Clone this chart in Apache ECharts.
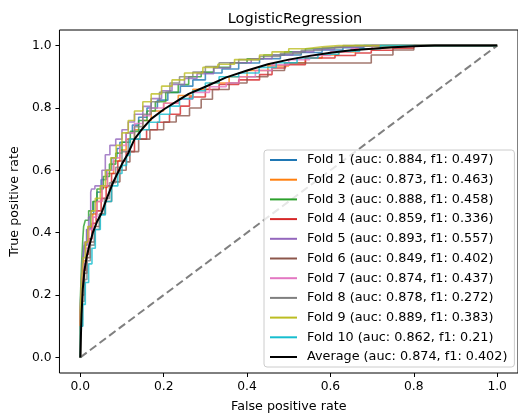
<!DOCTYPE html>
<html>
<head>
<meta charset="utf-8">
<script src="https://cdn.jsdelivr.net/npm/echarts@6/dist/echarts.min.js"></script>
<style>html,body{margin:0;padding:0;background:#fff;}#c{width:518px;height:418px;}</style>
</head>
<body>
<div id="c"></div>
<script>
// ---- data ----
var chartTitle = 'LogisticRegression';
var xName = 'False positive rate';
var yName = 'True positive rate';
var tickValues = [0, 0.2, 0.4, 0.6, 0.8, 1.0];

var foldNames = ['Fold 1','Fold 2','Fold 3','Fold 4','Fold 5','Fold 6','Fold 7','Fold 8','Fold 9','Fold 10'];
var foldAuc = ['0.884','0.873','0.888','0.859','0.893','0.849','0.874','0.878','0.889','0.862'];
var foldF1 = ['0.497','0.463','0.458','0.336','0.557','0.402','0.437','0.272','0.383','0.21'];
var avgAuc = '0.874', avgF1 = '0.402';

var fold1 = [[0,0],[0,0.03],[0.003,0.12],[0.006,0.22],[0.01,0.3],[0.016,0.36],[0.024,0.41],[0.032,0.46],[0.04,0.5],[0.05,0.53],[0.062,0.57],[0.075,0.6],[0.088,0.64],[0.095,0.67],[0.11,0.69],[0.125,0.72],[0.14,0.745],[0.16,0.77],[0.185,0.8],[0.21,0.825],[0.24,0.85],[0.27,0.87],[0.3,0.89],[0.34,0.912],[0.38,0.925],[0.43,0.944],[0.48,0.958],[0.53,0.97],[0.58,0.978],[0.63,0.986],[0.68,0.993],[0.72,1.0],[1,1]];
var fold2 = [[0,0],[0,0.05],[0.004,0.15],[0.008,0.25],[0.013,0.31],[0.02,0.37],[0.03,0.42],[0.04,0.46],[0.052,0.5],[0.065,0.545],[0.08,0.59],[0.095,0.63],[0.11,0.665],[0.13,0.7],[0.15,0.73],[0.17,0.76],[0.2,0.79],[0.235,0.815],[0.27,0.84],[0.31,0.86],[0.357,0.88],[0.4,0.9],[0.45,0.92],[0.5,0.935],[0.54,0.945],[0.58,0.96],[0.62,0.97],[0.66,0.98],[0.7,0.99],[0.76,0.995],[0.8,1.0],[1,1]];
var fold3 = [[0,0],[0,0.06],[0.003,0.18],[0.006,0.3],[0.008,0.38],[0.012,0.42],[0.02,0.44],[0.03,0.47],[0.04,0.5],[0.055,0.54],[0.07,0.58],[0.085,0.62],[0.1,0.655],[0.12,0.69],[0.14,0.725],[0.16,0.76],[0.18,0.79],[0.205,0.82],[0.235,0.85],[0.26,0.875],[0.29,0.9],[0.32,0.915],[0.36,0.93],[0.4,0.945],[0.44,0.958],[0.49,0.97],[0.54,0.98],[0.58,0.99],[0.63,0.996],[0.66,1.0],[1,1]];
var fold4 = [[0,0],[0,0.04],[0.004,0.13],[0.008,0.22],[0.013,0.28],[0.02,0.33],[0.028,0.38],[0.038,0.43],[0.05,0.47],[0.062,0.51],[0.075,0.55],[0.09,0.59],[0.11,0.63],[0.13,0.66],[0.159,0.7],[0.185,0.73],[0.214,0.754],[0.24,0.78],[0.262,0.806],[0.3,0.835],[0.333,0.859],[0.38,0.875],[0.43,0.89],[0.46,0.907],[0.492,0.928],[0.54,0.939],[0.611,0.96],[0.66,0.968],[0.698,0.976],[0.75,0.985],[0.8,0.992],[0.861,1.0],[1,1]];
var fold5 = [[0,0],[0,0.05],[0.003,0.16],[0.006,0.26],[0.01,0.32],[0.015,0.37],[0.02,0.41],[0.025,0.45],[0.027,0.53],[0.035,0.54],[0.052,0.55],[0.06,0.6],[0.071,0.65],[0.085,0.68],[0.1,0.7],[0.115,0.73],[0.13,0.755],[0.15,0.78],[0.17,0.805],[0.195,0.83],[0.22,0.855],[0.25,0.875],[0.28,0.895],[0.32,0.91],[0.36,0.928],[0.41,0.945],[0.46,0.958],[0.51,0.97],[0.56,0.98],[0.61,0.988],[0.66,0.995],[0.7,1.0],[1,1]];
var fold6 = [[0,0],[0,0.03],[0.005,0.12],[0.01,0.2],[0.016,0.27],[0.024,0.32],[0.034,0.37],[0.046,0.42],[0.06,0.46],[0.075,0.5],[0.095,0.563],[0.11,0.6],[0.119,0.627],[0.14,0.66],[0.167,0.7],[0.2,0.73],[0.23,0.755],[0.262,0.775],[0.29,0.8],[0.317,0.828],[0.357,0.859],[0.4,0.88],[0.45,0.9],[0.49,0.92],[0.52,0.944],[0.6,0.944],[0.698,0.944],[0.698,0.97],[0.75,0.97],[0.78,0.986],[0.8,0.986],[0.81,1.0],[1,1]];
var fold7 = [[0,0],[0,0.04],[0.004,0.14],[0.008,0.24],[0.013,0.3],[0.02,0.35],[0.03,0.41],[0.04,0.45],[0.052,0.5],[0.065,0.55],[0.08,0.6],[0.095,0.64],[0.11,0.68],[0.13,0.72],[0.15,0.75],[0.167,0.775],[0.2,0.8],[0.235,0.815],[0.27,0.828],[0.31,0.85],[0.35,0.868],[0.381,0.88],[0.42,0.9],[0.46,0.92],[0.5,0.938],[0.55,0.955],[0.6,0.968],[0.65,0.98],[0.7,0.99],[0.75,1.0],[1,1]];
var fold8 = [[0,0],[0,0.02],[0.005,0.1],[0.01,0.18],[0.016,0.25],[0.024,0.31],[0.034,0.36],[0.046,0.41],[0.058,0.46],[0.07,0.51],[0.085,0.56],[0.1,0.61],[0.115,0.66],[0.13,0.7],[0.15,0.74],[0.17,0.78],[0.19,0.82],[0.215,0.85],[0.238,0.88],[0.27,0.9],[0.3,0.915],[0.333,0.933],[0.38,0.945],[0.43,0.955],[0.48,0.965],[0.53,0.975],[0.58,0.985],[0.63,0.993],[0.68,1.0],[1,1]];
var fold9 = [[0,0],[0,0.05],[0.003,0.15],[0.007,0.25],[0.012,0.32],[0.018,0.37],[0.026,0.42],[0.036,0.47],[0.048,0.51],[0.06,0.55],[0.073,0.6],[0.086,0.64],[0.1,0.68],[0.115,0.72],[0.13,0.76],[0.15,0.79],[0.17,0.82],[0.195,0.845],[0.22,0.87],[0.25,0.89],[0.294,0.912],[0.33,0.93],[0.37,0.94],[0.43,0.955],[0.46,0.97],[0.5,0.98],[0.54,0.99],[0.58,0.996],[0.62,1.0],[1,1]];
var fold10 = [[0,0],[0,0.02],[0.006,0.1],[0.012,0.17],[0.02,0.24],[0.028,0.3],[0.036,0.35],[0.048,0.41],[0.06,0.457],[0.075,0.5],[0.09,0.55],[0.1,0.59],[0.111,0.616],[0.119,0.648],[0.143,0.7],[0.165,0.73],[0.19,0.754],[0.215,0.78],[0.238,0.806],[0.27,0.83],[0.3,0.855],[0.333,0.88],[0.38,0.9],[0.429,0.912],[0.47,0.93],[0.52,0.945],[0.57,0.96],[0.62,0.972],[0.67,0.982],[0.72,0.99],[0.77,1.0],[1,1]];

var avgFpr = [0,0.003,0.006,0.01,0.015,0.02,0.03,0.04,0.05,0.065,0.08,0.1,0.115,0.13,0.15,0.17,0.2,0.23,0.26,0.3,0.35,0.4,0.45,0.5,0.55,0.6,0.65,0.7,0.75,0.8,0.85,0.9,1.0];
var avgTpr = [0,0.14,0.22,0.28,0.32,0.35,0.40,0.435,0.46,0.515,0.565,0.62,0.655,0.70,0.735,0.765,0.795,0.82,0.845,0.868,0.898,0.92,0.94,0.955,0.967,0.977,0.985,0.99,0.995,0.998,1.0,1.0,1.0];
var chanceLine = [[0,0],[1,1]];

var foldData = [fold1,fold2,fold3,fold4,fold5,fold6,fold7,fold8,fold9,fold10];
var colors = ['#1f77b4','#ff7f0e','#2ca02c','#d62728','#9467bd','#8c564b','#e377c2','#7f7f7f','#bcbd22','#17becf'];

// ---- chart ----
var FONT = 'DejaVu Sans';
var chart = echarts.init(document.getElementById('c'), null, {renderer:'canvas'});
var series = [];
var legendNames = [];
series.push({
  type:'line', name:'chance', data: chanceLine, symbol:'none', silent:true,
  lineStyle:{color:'#808080', width:2, type:[8,4]}, z:1
});
foldData.forEach(function(d, i){
  var nm = foldNames[i] + ' (auc: ' + foldAuc[i] + ', f1: ' + foldF1[i] + ')';
  legendNames.push(nm);
  series.push({
    type:'line', name:nm, data:d, symbol:'none', step:'start', color:colors[i],
    lineStyle:{color:colors[i], width:1.6, opacity:0.8}, itemStyle:{color:colors[i]}, z:2
  });
});
var avgName = 'Average (auc: ' + avgAuc + ', f1: ' + avgF1 + ')';
legendNames.push(avgName);
series.push({
  type:'line', name:avgName, data: avgFpr.map(function(x,i){return [x, avgTpr[i]];}),
  symbol:'none', color:'#000', lineStyle:{color:'#000', width:2}, itemStyle:{color:'#000'}, z:3
});

var axisCommon = function(name, gap){
  return {type:'value', min:-0.05, max:1.05, name:name, nameLocation:'middle', nameGap:gap,
    nameTextStyle:{fontFamily:FONT, fontSize:12.7, color:'#000'},
    axisLine:{show:false, onZero:false}, splitLine:{show:false},
    axisTick:{show:true, length:4, lineStyle:{color:'#000'}, customValues:tickValues},
    axisLabel:{fontFamily:FONT, fontSize:12.3, color:'#000', margin:8, customValues:tickValues,
      formatter:function(v){return v.toFixed(1);}}};
};

chart.setOption({
  animation:false,
  backgroundColor:'#fff',
  title:{text:chartTitle, left:290, top:7, textAlign:'center',
    textStyle:{fontFamily:FONT, fontSize:14.5, fontWeight:'normal', color:'#000'}},
  grid:{left:59, top:30, width:462, height:346, show:true, borderColor:'#000', borderWidth:1, containLabel:false},
  xAxis:axisCommon(xName, 27),
  yAxis:axisCommon(yName, 38),
  legend:{orient:'vertical', left:264, top:150, itemWidth:27, itemHeight:2, itemGap:5.7, icon:'rect',
    padding:[3,7,3,6], backgroundColor:'rgba(255,255,255,0.8)', borderColor:'#cccccc', borderWidth:1, borderRadius:3,
    textStyle:{fontFamily:FONT, fontSize:12.8, lineHeight:14, color:'#000', padding:[0,0,0,5]},
    data:legendNames},
  series:series
});
</script>
</body>
</html>
